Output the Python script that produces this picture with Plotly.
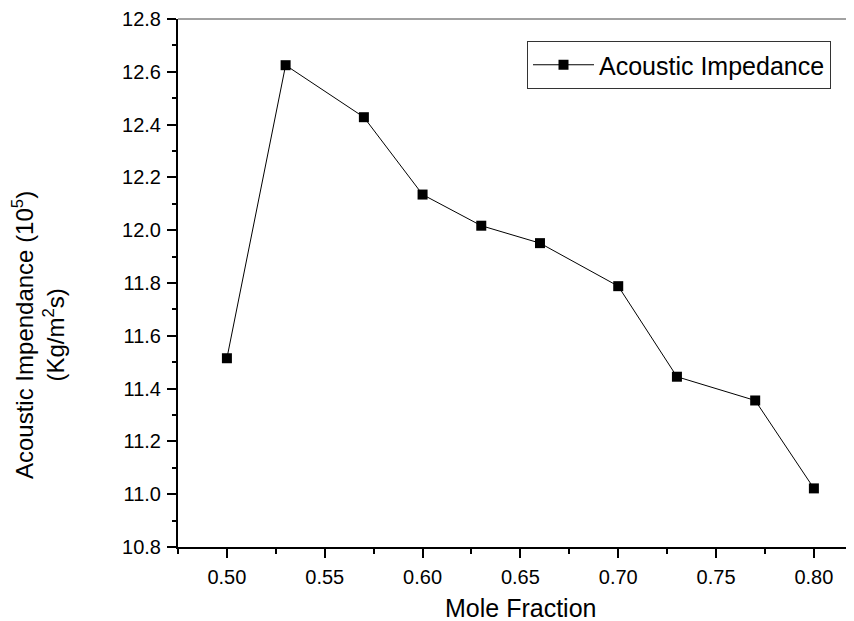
import plotly.graph_objects as go

mole_fraction = [0.50, 0.53, 0.57, 0.60, 0.63, 0.66, 0.70, 0.73, 0.77, 0.80]
impedance = [11.515, 12.625, 12.428, 12.135, 12.017, 11.951, 11.788, 11.445, 11.355, 11.022]

x_ticks = [0.50, 0.55, 0.60, 0.65, 0.70, 0.75, 0.80]
x_tick_labels = ["0.50", "0.55", "0.60", "0.65", "0.70", "0.75", "0.80"]
y_ticks = [10.8, 11.0, 11.2, 11.4, 11.6, 11.8, 12.0, 12.2, 12.4, 12.6, 12.8]
y_tick_labels = ["10.8", "11.0", "11.2", "11.4", "11.6", "11.8", "12.0", "12.2", "12.4", "12.6", "12.8"]

x_title = "Mole Fraction"
y_title = "Acoustic Impendance (10<sup>5</sup>)<br>(Kg/m<sup>2</sup>s)"

FONT = "Liberation Sans, Arial, sans-serif"
OFF = 8  # page body margin
W, H = 854 - OFF, 621 - OFF
L, R, T, B = 178 - OFF, 0, 19 - OFF, 74
PW, PH = W - L - R, H - T - B


def px(xr):
    return (xr - OFF - L) / PW


def py(yr):
    return 1 - (yr - OFF - T) / PH


fig = go.Figure()
fig.add_trace(go.Scatter(
    x=mole_fraction, y=impedance, mode="lines+markers",
    name="Acoustic Impedance",
    line=dict(color="black", width=1),
    marker=dict(symbol="square", size=10, color="black"),
))

fig.update_layout(
    width=W, height=H,
    margin=dict(l=L, r=R, t=T, b=B, autoexpand=False),
    paper_bgcolor="white", plot_bgcolor="white",
    font=dict(family=FONT, color="black", size=20),
    showlegend=True,
    legend=dict(
        x=px(831), y=py(41), xanchor="right", yanchor="top",
        bordercolor="#333", borderwidth=1, bgcolor="white",
        font=dict(size=25, family=FONT),
        itemwidth=61, tracegroupgap=0,
    ),
    xaxis=dict(
        range=[0.475, 0.8205], automargin=False,
        tickmode="array", tickvals=x_ticks, ticktext=x_tick_labels,
        ticks="outside", ticklen=9, tickwidth=2, tickcolor="black",
        ticklabelstandoff=2,
        showline=True, linecolor="black", linewidth=2,
        showgrid=False, zeroline=False,
        minor=dict(ticks="outside", ticklen=5, tickwidth=2, tickcolor="black", dtick=0.025, tick0=0.475),
        tickfont=dict(size=20, family=FONT),
    ),
    yaxis=dict(
        range=[10.8, 12.8], automargin=False,
        tickmode="array", tickvals=y_ticks, ticktext=y_tick_labels,
        ticks="outside", ticklen=9, tickwidth=2, tickcolor="black",
        ticklabelstandoff=2,
        showline=True, linecolor="black", linewidth=2,
        showgrid=False, zeroline=False,
        minor=dict(ticks="outside", ticklen=4, tickwidth=2, tickcolor="black", dtick=0.1, tick0=10.8),
        tickfont=dict(size=20, family=FONT),
    ),
)

fig.add_annotation(text=x_title, xref="paper", yref="paper",
                   x=px(520), y=py(608),
                   xanchor="center", yanchor="middle", showarrow=False,
                   font=dict(size=25, family=FONT))
fig.add_annotation(text=y_title, xref="paper", yref="paper",
                   x=px(38), y=py(335), textangle=-90,
                   xanchor="center", yanchor="middle", showarrow=False,
                   font=dict(size=24, family=FONT))

fig.add_shape(type="line", xref="paper", yref="paper", x0=0, x1=1, y0=1, y1=1,
              line=dict(color="#444", width=1))

fig.write_html("out.html")
